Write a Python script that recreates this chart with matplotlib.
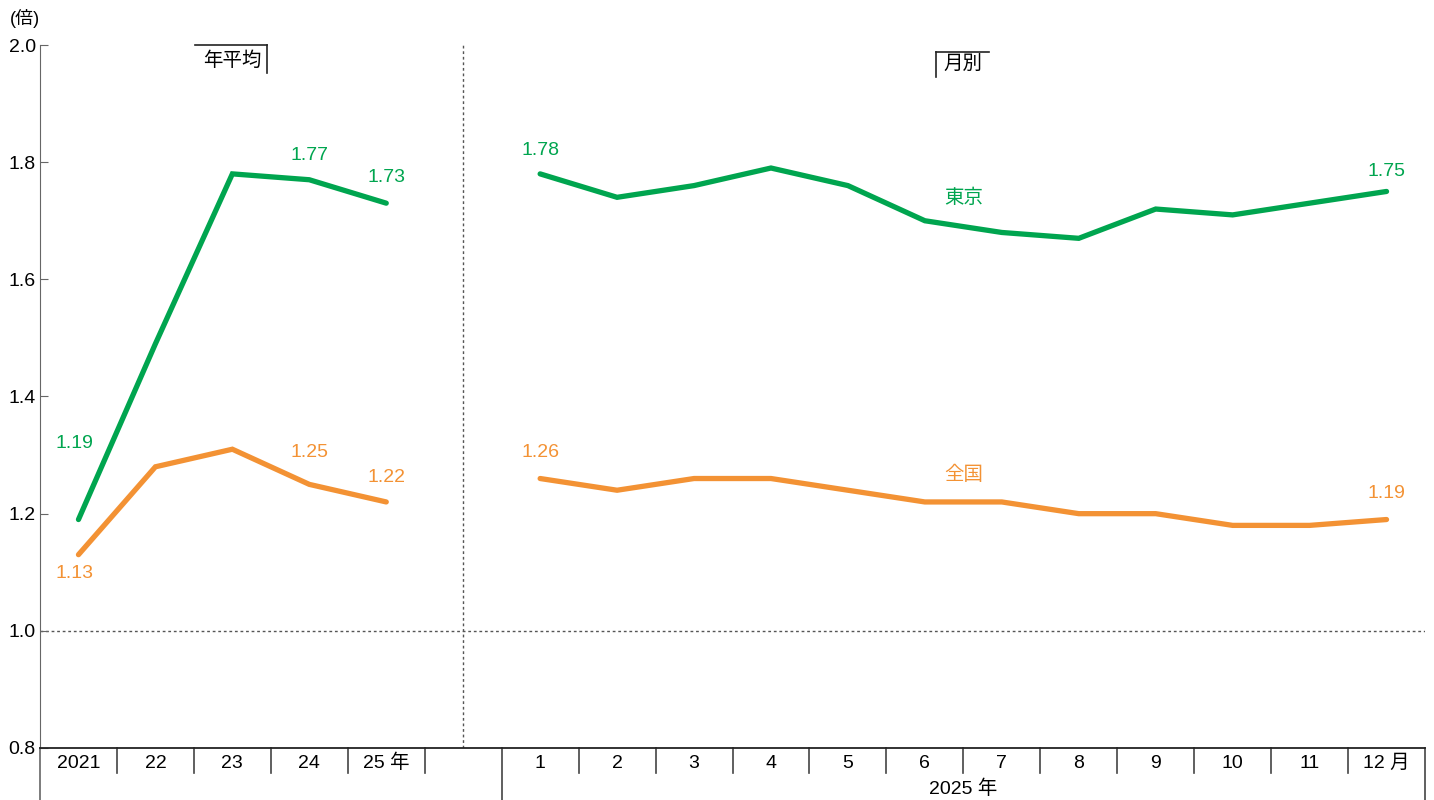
import numpy as np
import matplotlib
matplotlib.use("Agg")
import matplotlib.pyplot as plt
from matplotlib.lines import Line2D

plt.rcParams['font.family'] = ['Liberation Sans Narrow', 'Liberation Sans', 'Noto Sans CJK JP', 'DejaVu Sans']

GREEN = "#00a54f"
ORANGE = "#f39234"

year_labels = ["2021", "22", "23", "24", "25 年"]
month_labels = ["1", "2", "3", "4", "5", "6", "7", "8", "9", "10", "11", "12 月"]
tokyo_year = [1.19, 1.49, 1.78, 1.77, 1.73]
japan_year = [1.13, 1.28, 1.31, 1.25, 1.22]
tokyo_month = [1.78, 1.74, 1.76, 1.79, 1.76, 1.70, 1.68, 1.67, 1.72, 1.71, 1.73, 1.75]
japan_month = [1.26, 1.24, 1.26, 1.26, 1.24, 1.22, 1.22, 1.20, 1.20, 1.18, 1.18, 1.19]

xy = np.arange(len(year_labels)) + 0.5
xm = np.arange(len(month_labels)) + len(year_labels) + 1.5
nslots = len(year_labels) + 1 + len(month_labels)

fig = plt.figure(figsize=(14.34, 8), dpi=100)
ax = fig.add_axes([40/1434, 52/800, 1385/1434, 703/800])
ax.set_xlim(0, nslots)
ax.set_ylim(0.8, 2.0)

lw = 3.8
for xs, t, j in [(xy, tokyo_year, japan_year), (xm, tokyo_month, japan_month)]:
    ax.plot(xs, t, color=GREEN, lw=lw, solid_capstyle="round", solid_joinstyle="miter", zorder=3)
    ax.plot(xs, j, color=ORANGE, lw=lw, solid_capstyle="round", solid_joinstyle="miter", zorder=3)

# value labels
fs = 14
def lab(x, y, s, c, dy):
    ax.annotate(s, (x, y), xytext=(0, dy), textcoords="offset pixels",
                ha="center", va="center", color=c, fontsize=fs)

lab(xy[0] - 0.05, tokyo_year[0], "1.19", GREEN, 76)
lab(xy[3], tokyo_year[3], "1.77", GREEN, 24)
lab(xy[4], tokyo_year[4], "1.73", GREEN, 26)
lab(xm[0], tokyo_month[0], "1.78", GREEN, 23)
lab(xm[-1], tokyo_month[-1], "1.75", GREEN, 20)
lab(xy[0] - 0.05, japan_year[0], "1.13", ORANGE, -19)
lab(xy[3], japan_year[3], "1.25", ORANGE, 32)
lab(xy[4], japan_year[4], "1.22", ORANGE, 24)
lab(xm[0], japan_month[0], "1.26", ORANGE, 26)
lab(xm[-1], japan_month[-1], "1.19", ORANGE, 26)
ax.text(12.0, 1.739, "東京", color=GREEN, fontsize=14, ha="center", va="center")
ax.text(12.0, 1.266, "全国", color=ORANGE, fontsize=14, ha="center", va="center")

# reference lines
ax.axhline(1.0, color="#555555", lw=1.0, ls=(0, (2, 2)), zorder=1)
ax.axvline(len(year_labels) + 0.5, color="#555555", lw=1.0, ls=(0, (2, 2)), zorder=1)

# spines and ticks
for s in ["top", "right"]:
    ax.spines[s].set_visible(False)
ax.spines["left"].set_color("#666666")
ax.spines["left"].set_bounds(0.8, 2.0)
ax.spines["bottom"].set_color("#222222")
ax.spines["bottom"].set_linewidth(1.3)
ax.set_yticks(np.arange(0.8, 2.01, 0.2))
ax.set_yticklabels([f"{v:.1f}" for v in np.arange(0.8, 2.01, 0.2)])
ax.tick_params(axis="y", direction="in", length=6, color="#666666", labelsize=14, pad=3)
ax.set_xticks([])
fig.text(10/1434, 1 - 18/800, "(倍)", fontsize=13, va="center", ha="left")

# category separators below the axis
def fy(py):
    return (748 - py) / 703
short = fy(773)
longb = fy(800)
ax.add_line(Line2D([0, 0], [0, longb], color="#666666", lw=1.2, transform=ax.get_xaxis_transform(), clip_on=False))
for b in range(1, nslots):
    y1 = longb if b == len(year_labels) + 1 else short
    ax.add_line(Line2D([b, b], [0, y1], color="#444444", lw=1.2,
                       transform=ax.get_xaxis_transform(), clip_on=False))
ax.add_line(Line2D([nslots, nslots], [0, longb], color="#444444", lw=1.2,
                   transform=ax.get_xaxis_transform(), clip_on=False))
for x, s in zip(xy, year_labels):
    ax.text(x, fy(763), s, transform=ax.get_xaxis_transform(), ha="center", va="center", fontsize=14)
for x, s in zip(xm, month_labels):
    ax.text(x, fy(763), s, transform=ax.get_xaxis_transform(), ha="center", va="center", fontsize=14)
ax.text(12.0, fy(789), "2025 年", transform=ax.get_xaxis_transform(), ha="center", va="center", fontsize=14)

# section headers with bracket lines
t = ax.get_xaxis_transform()
ax.text(2.5, fy(61), "年平均", transform=t, ha="center", va="center", fontsize=14)
ax.add_line(Line2D([2.02, 2.95], [fy(45), fy(45)], color="#222222", lw=1.2, transform=t, clip_on=False))
ax.add_line(Line2D([2.95, 2.95], [fy(45), fy(73)], color="#222222", lw=1.2, transform=t, clip_on=False))
ax.text(12.0, fy(65), "月別", transform=t, ha="center", va="center", fontsize=14)
ax.add_line(Line2D([11.65, 12.34], [fy(52), fy(52)], color="#222222", lw=1.2, transform=t, clip_on=False))
ax.add_line(Line2D([11.65, 11.65], [fy(52), fy(77)], color="#222222", lw=1.2, transform=t, clip_on=False))

fig.savefig("out.png", dpi=100)
